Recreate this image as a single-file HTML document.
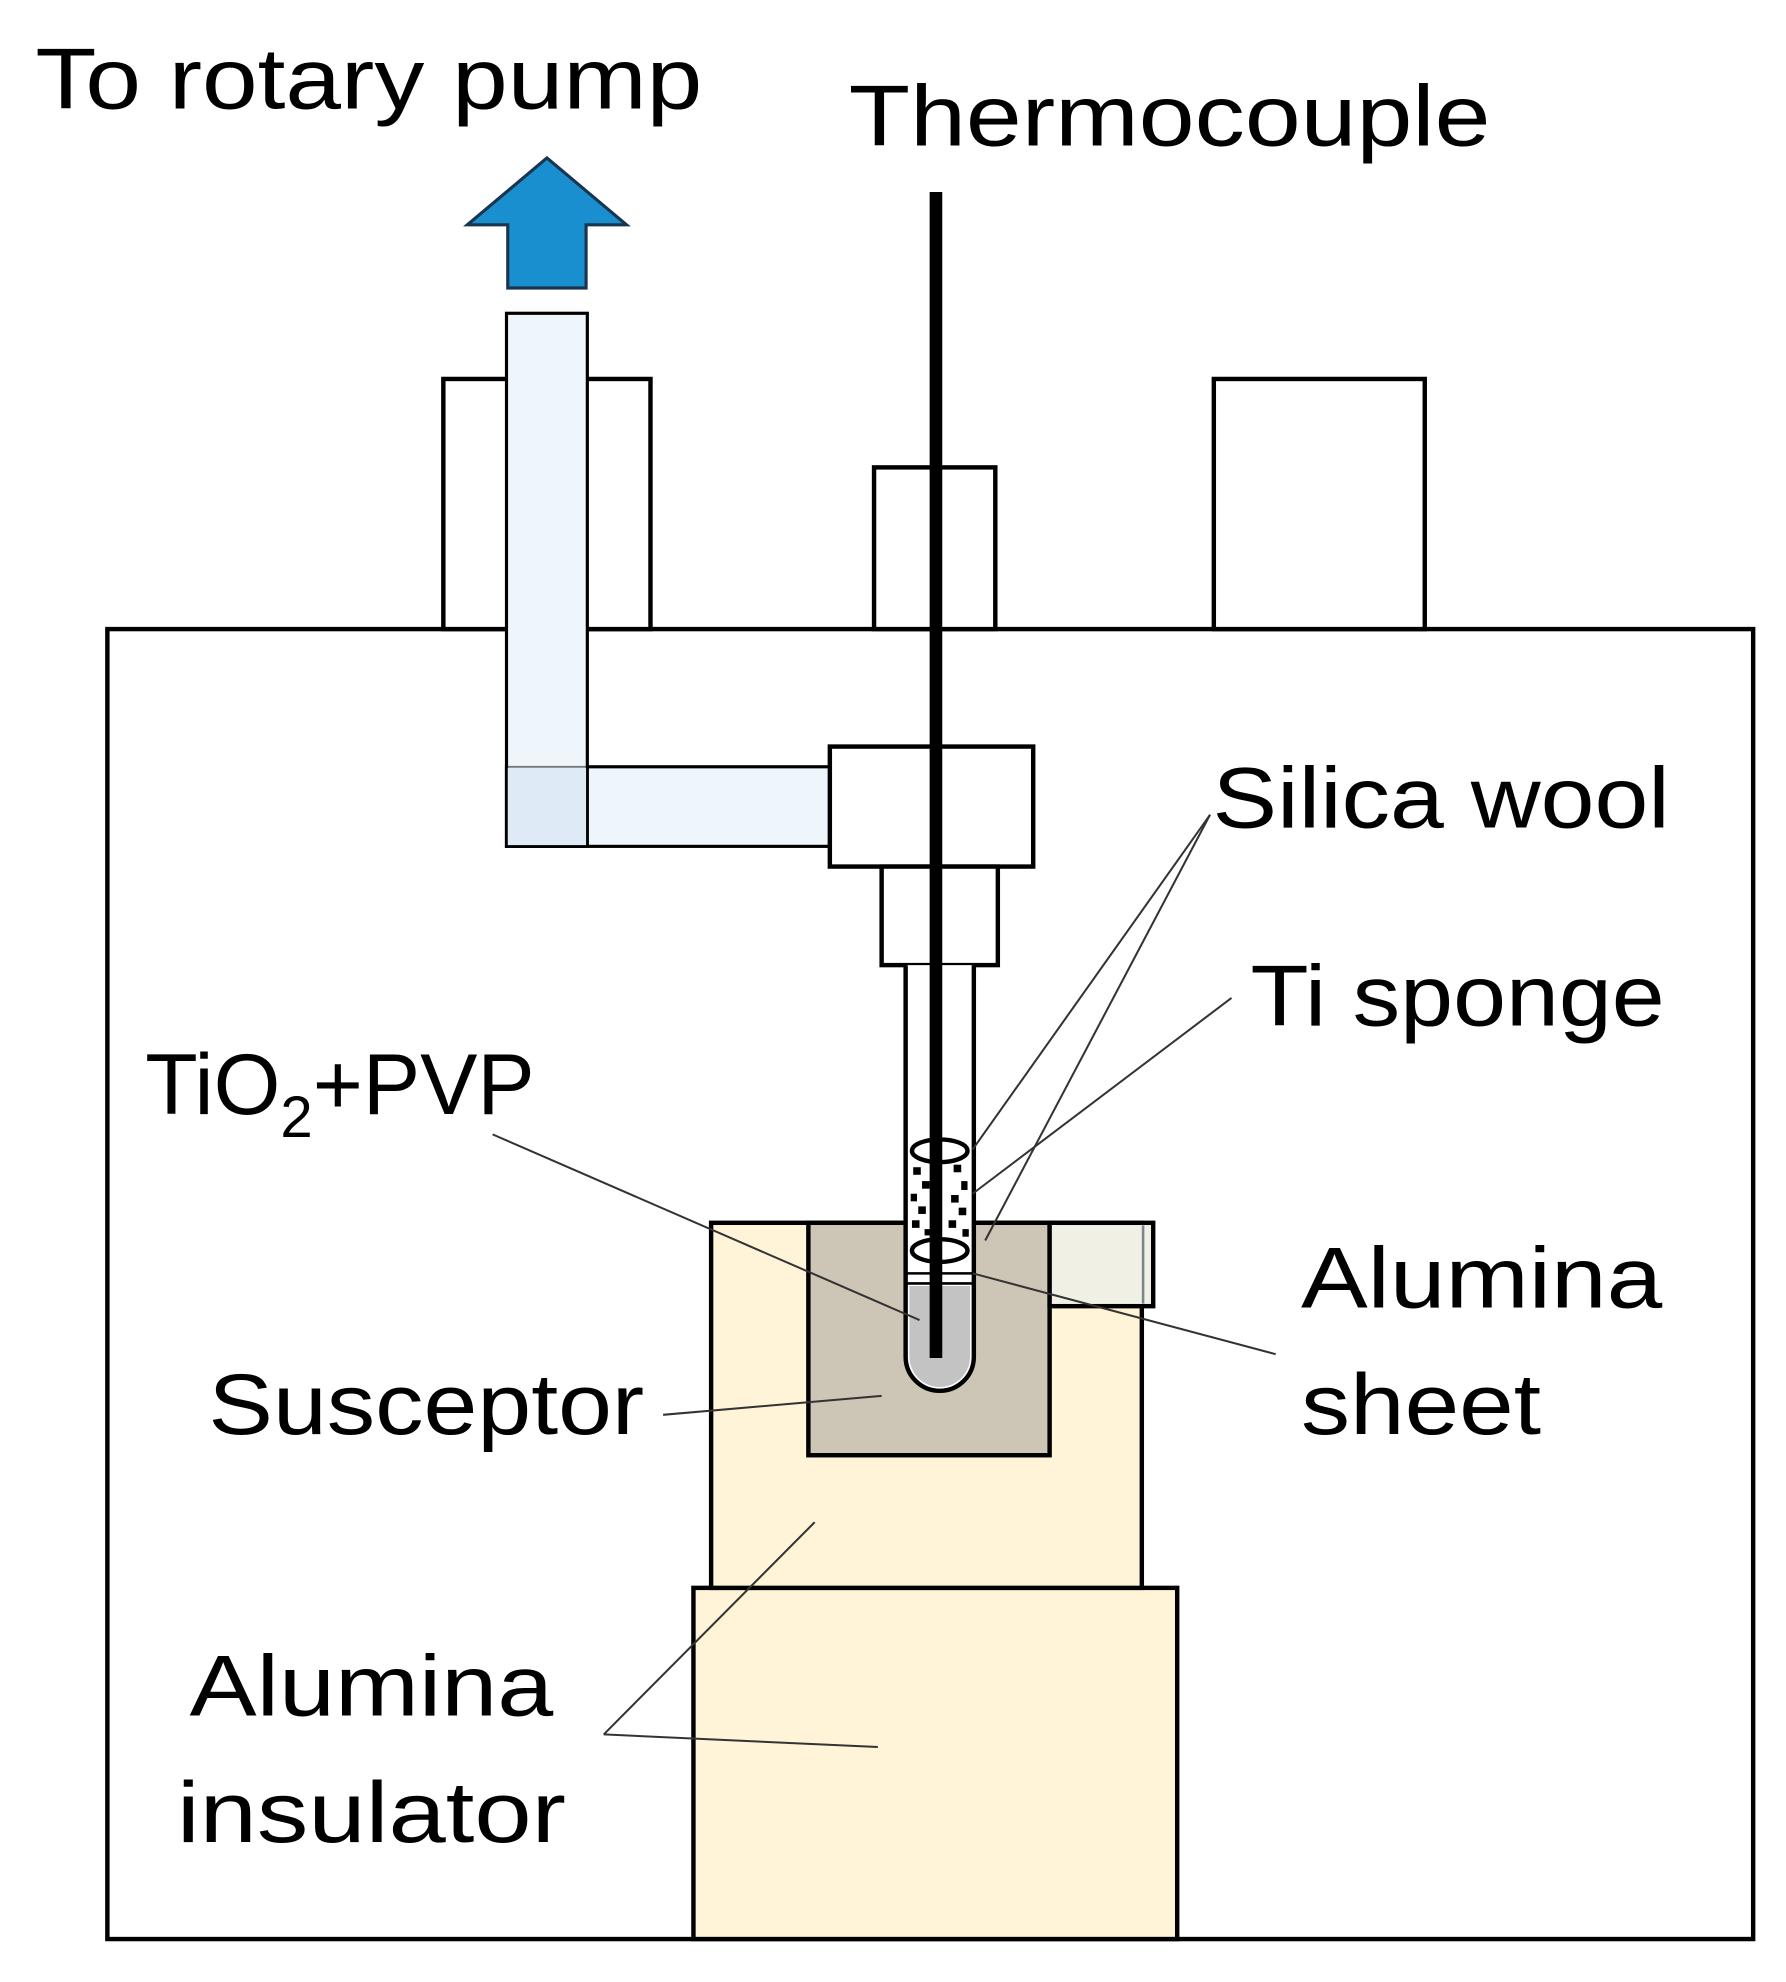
<!DOCTYPE html>
<html><head><meta charset="utf-8"><style>html,body{margin:0;padding:0;background:#fff}svg{display:block}</style></head>
<body>
<svg width="1786" height="1982" viewBox="0 0 1414 1569" preserveAspectRatio="none" xmlns="http://www.w3.org/2000/svg" font-family="Liberation Sans, sans-serif" font-size="68" fill="#000">
<rect x="0" y="0" width="1414" height="1569" fill="#fff"/>
<rect x="85" y="498" width="1303" height="1037" fill="none" stroke="#000" stroke-width="3.5"/>
<rect x="351" y="300" width="164" height="198" fill="#fff" stroke="#000" stroke-width="3.5"/>
<rect x="692" y="370" width="96" height="128" fill="#fff" stroke="#000" stroke-width="3.5"/>
<rect x="961" y="300" width="167" height="198" fill="#fff" stroke="#000" stroke-width="3.5"/>
<rect x="401" y="607" width="256" height="63" fill="#eef5fb" stroke="#000" stroke-width="2.5"/>
<rect x="401" y="248" width="64" height="422" fill="#eef5fb" stroke="#000" stroke-width="2.5"/>
<rect x="402" y="608" width="62" height="61" fill="#deeaf6"/>
<line x1="401" y1="607" x2="465" y2="607" stroke="#000" stroke-width="1.5" opacity="0.5"/>
<polygon points="402,228 464,228 464,178 496,178 433,125 370,178 402,178" fill="#1a8fd0" stroke="#1a3550" stroke-width="2.5"/>
<rect x="657" y="591" width="161" height="95" fill="#fff" stroke="#000" stroke-width="3.5"/>
<rect x="698" y="686" width="92" height="78" fill="#fff" stroke="#000" stroke-width="3.5"/>
<rect x="549" y="1257" width="383" height="278" fill="#fff3d8" stroke="#000" stroke-width="3.5"/>
<rect x="563" y="968" width="341" height="289" fill="#fff3d8" stroke="#000" stroke-width="3.5"/>
<rect x="640" y="968" width="191" height="184" fill="#cdc5b5" stroke="#000" stroke-width="3.5"/>
<rect x="831" y="968" width="82" height="66" fill="#f0f0e4" stroke="#000" stroke-width="3.5"/>
<line x1="905" y1="970" x2="905" y2="1032" stroke="#7a8590" stroke-width="2"/>
<path d="M717,764 L717,1074 A27,27 0 0 0 771,1074 L771,764" fill="#fff" stroke="#000" stroke-width="3.5"/>
<path d="M720,1018 L720,1074 A24,24 0 0 0 768,1074 L768,1018 Z" fill="#c3c3c3"/>
<line x1="718" y1="1016" x2="770" y2="1016" stroke="#000" stroke-width="2"/>
<line x1="718" y1="1008" x2="770" y2="1008" stroke="#000" stroke-width="2"/>
<ellipse cx="744" cy="911" rx="22" ry="9" fill="#fff" stroke="#000" stroke-width="3.5"/>
<ellipse cx="744" cy="990" rx="22" ry="9" fill="#fff" stroke="#000" stroke-width="3.5"/>
<g fill="#000">
<rect x="723" y="924" width="6" height="6"/><rect x="755" y="922" width="6" height="6"/><rect x="730" y="935" width="6" height="6"/><rect x="761" y="935" width="5" height="7"/>
<rect x="721" y="945" width="5" height="6"/><rect x="753" y="946" width="6" height="6"/><rect x="727" y="955" width="6" height="6"/><rect x="759" y="956" width="6" height="6"/>
<rect x="722" y="966" width="6" height="6"/><rect x="751" y="966" width="6" height="6"/><rect x="732" y="973" width="5" height="5"/><rect x="762" y="973" width="5" height="6"/>
</g>
<line x1="741" y1="152" x2="741" y2="1075" stroke="#000" stroke-width="10"/>
<g stroke="#333" stroke-width="1.6" fill="none">
<line x1="958" y1="645" x2="770" y2="910"/>
<line x1="958" y1="645" x2="780" y2="982"/>
<line x1="975" y1="790" x2="770" y2="945"/>
<line x1="390" y1="898" x2="728" y2="1045"/>
<line x1="1010" y1="1072" x2="770" y2="1008"/>
<line x1="525" y1="1120" x2="698" y2="1105"/>
<line x1="478" y1="1373" x2="645" y2="1205"/>
<line x1="478" y1="1373" x2="695" y2="1383"/>
</g>
<text x="28" y="86" textLength="528" lengthAdjust="spacingAndGlyphs">To rotary pump</text>
<text x="672" y="115" textLength="508" lengthAdjust="spacingAndGlyphs">Thermocouple</text>
<text x="960" y="655" textLength="362" lengthAdjust="spacingAndGlyphs">Silica wool</text>
<text x="990" y="812" textLength="328" lengthAdjust="spacingAndGlyphs">Ti sponge</text>
<text x="115" y="882">TiO<tspan font-size="46" dy="18">2</tspan><tspan dy="-18">+PVP</tspan></text>
<text x="1030" y="1035" textLength="286" lengthAdjust="spacingAndGlyphs">Alumina</text>
<text x="1030" y="1135" textLength="190" lengthAdjust="spacingAndGlyphs">sheet</text>
<text x="165" y="1135" textLength="345" lengthAdjust="spacingAndGlyphs">Susceptor</text>
<text x="150" y="1358" textLength="288" lengthAdjust="spacingAndGlyphs">Alumina</text>
<text x="140" y="1458" textLength="308" lengthAdjust="spacingAndGlyphs">insulator</text>
</svg>
</body></html>
